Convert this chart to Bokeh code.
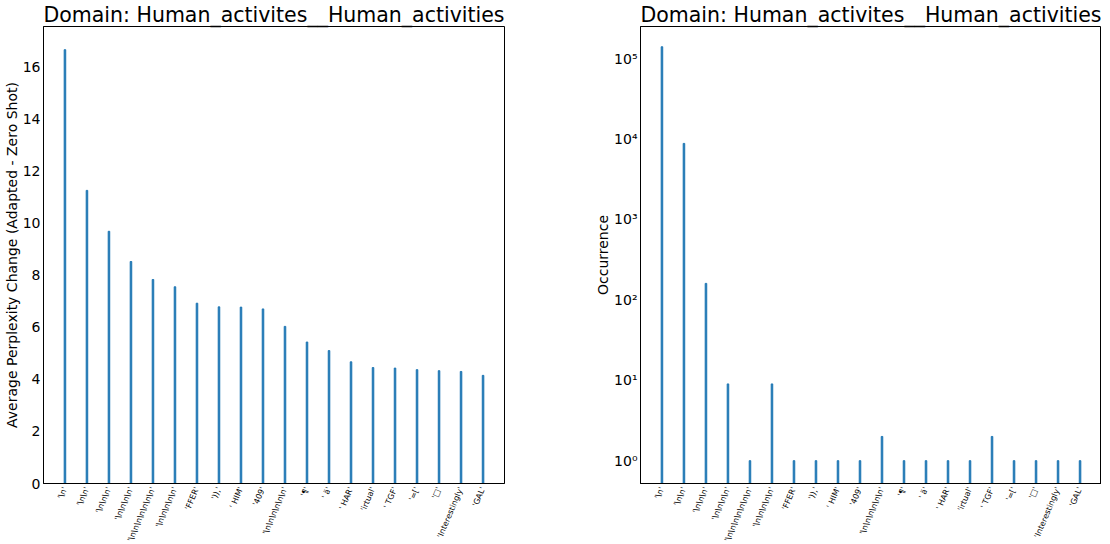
import math
from bokeh.plotting import figure
from bokeh.layouts import row
from bokeh.models import FixedTicker
from bokeh.embed import file_html
from bokeh.resources import INLINE

tokens = ["'\\n'", "'\\n\\n'", "'\\n\\n\\n'", "'\\n\\n\\n\\n'", "'\\n\\n\\n\\n\\n\\n\\n'",
          "'\\n\\n\\n\\n\\n'", "'FFER'", "')),'", "' HIM'", "'409'",
          "'\\n\\n\\n\\n\\n\\n'", "'¶'", "' ä'", "' HAR'", "'irtual'",
          "' TGF'", "'=['", "'□'", "'Interestingly'", "'GAL'"]
ppl_change = [16.65, 11.25, 9.68, 8.52, 7.83, 7.55, 6.92, 6.78, 6.77, 6.70,
              6.03, 5.43, 5.10, 4.67, 4.45, 4.43, 4.37, 4.33, 4.30, 4.15]
occurrence = [140000, 8800, 160, 9, 1, 9, 1, 1, 1, 1,
              2, 1, 1, 1, 1, 2, 1, 1, 1, 1]
title_text = "Domain: Human_activites__Human_activities"

BLUE = "#1f77b4"
FONT = "DejaVu Sans"


def style(p):
    p.title.text_font = FONT
    p.title.text_font_size = "20.5px"
    p.title.text_font_style = "normal"
    p.title.text_color = "black"
    p.title.align = "center"
    p.title.standoff = 0
    p.title.offset = 0
    p.xgrid.visible = False
    p.ygrid.visible = False
    p.outline_line_color = "black"
    p.outline_line_alpha = 1
    p.outline_line_width = 1
    for ax in (p.xaxis[0], p.yaxis[0]):
        ax.axis_line_color = "black"
        ax.major_tick_in = 0
        ax.major_tick_out = 0
        ax.minor_tick_in = 0
        ax.minor_tick_out = 0
        ax.major_label_text_font = FONT
        ax.major_label_text_color = "black"
        ax.axis_label_text_font = FONT
        ax.axis_label_text_color = "black"
        ax.axis_label_text_font_style = "normal"
        ax.axis_label_text_font_size = "14px"
    p.yaxis.major_label_text_font_size = "14px"
    p.yaxis.major_label_standoff = 3
    p.yaxis.axis_label_standoff = 0
    p.xaxis.major_label_text_font_size = "8px"
    p.xaxis.major_label_orientation = math.radians(67)
    p.xaxis.major_label_standoff = 4
    p.x_range.range_padding = 0.0475


p1 = figure(x_range=tokens, y_range=(0, 17.54), width=581, height=528,
            frame_width=461, frame_height=457,
            output_backend="svg", toolbar_location=None, title=title_text,
            min_border_left=33, min_border_right=87, min_border_top=0, min_border_bottom=0)
p1.vbar(x=tokens, top=ppl_change, bottom=0, width=0.07, color=BLUE)
style(p1)
p1.yaxis.ticker = FixedTicker(ticks=[0, 2, 4, 6, 8, 10, 12, 14, 16])
p1.yaxis.axis_label = "Average Perplexity Change (Adapted - Zero Shot)"

p2 = figure(x_range=tokens, y_range=(0.52, 2.5e5), y_axis_type="log", width=510, height=528,
            frame_width=461, frame_height=457,
            output_backend="svg", toolbar_location=None, title=title_text,
            min_border_left=49, min_border_right=0, min_border_top=0, min_border_bottom=0)
p2.vbar(x=tokens, top=occurrence, bottom=0.1, width=0.07, color=BLUE)
style(p2)
p2.yaxis.ticker = FixedTicker(ticks=[1, 10, 100, 1000, 10000, 100000])
p2.yaxis.major_label_overrides = {1: "10⁰", 10: "10¹", 100: "10²", 1000: "10³",
                                  10000: "10⁴", 100000: "10⁵"}
p2.yaxis.axis_label = "Occurrence"

layout = row(p1, p2)
open("out.html", "w").write(file_html(layout, INLINE))
